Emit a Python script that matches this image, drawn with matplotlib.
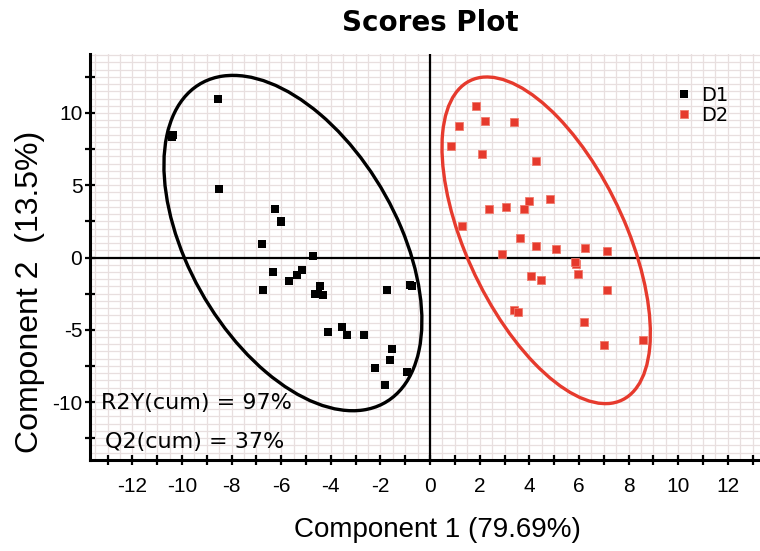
import numpy as np
import matplotlib
matplotlib.use("Agg")
import matplotlib.pyplot as plt
from matplotlib.patches import Ellipse
from matplotlib.ticker import MultipleLocator, FuncFormatter

# scores
d1_x = [-8.55, -10.42, -10.35, -8.5, -6.25, -6.02, -6.0, -6.79, -4.73, -6.32, -5.67, -5.37,
        -5.17, -6.72, -4.44, -4.65, -4.3, -4.5, -4.13, -3.56, -3.36, -2.66, -1.72, -0.74,
        -0.8, -1.52, -1.61, -2.22, -0.94, -1.81]
d1_y = [10.97, 8.36, 8.5, 4.74, 3.33, 2.46, 2.55, 0.91, 0.12, -1.0, -1.6, -1.21,
        -0.87, -2.25, -2.0, -2.55, -2.6, -2.5, -5.13, -4.79, -5.36, -5.36, -2.25, -1.97,
        -1.9, -6.35, -7.09, -7.67, -7.9, -8.82]
d2_x = [1.85, 1.18, 2.23, 3.39, 0.83, 2.08, 4.26, 2.39, 3.06, 3.79, 3.98, 4.84, 1.29,
        3.64, 4.26, 5.06, 6.26, 7.12, 2.89, 5.87, 5.85, 5.98, 4.06, 4.46, 7.12, 3.39,
        3.54, 6.21, 8.58, 7.02]
d2_y = [10.5, 9.1, 9.47, 9.36, 7.72, 7.14, 6.68, 3.34, 3.47, 3.34, 3.91, 4.03, 2.18,
        1.33, 0.8, 0.57, 0.68, 0.45, 0.24, -0.45, -0.3, -1.17, -1.28, -1.56, -2.25, -3.63,
        -3.75, -4.44, -5.71, -6.06]

# confidence ellipses: centre and covariance-like matrix
d1_centre = (-5.53, 1.0)
d1_cov = [[27.04, -28.0], [-28.0, 134.6]]
d2_centre = (4.68, 1.19)
d2_cov = [[17.64, -27.0], [-27.0, 127.7]]

black = "#000000"
red = "#e63a2d"


def add_ellipse(ax, centre, cov, color):
    vals, vecs = np.linalg.eigh(np.array(cov))
    ang = np.degrees(np.arctan2(vecs[1, 1], vecs[0, 1]))
    e = Ellipse(centre, 2 * np.sqrt(vals[1]), 2 * np.sqrt(vals[0]), angle=ang,
                fill=False, edgecolor=color, lw=2.4, zorder=3)
    ax.add_patch(e)


fig = plt.figure(figsize=(7.6, 5.51), dpi=100)
ax = fig.add_axes([90 / 760, 1 - 460 / 551, 670 / 760, 406 / 551])
ax.set_xlim(-13.71, 13.3)
ax.set_ylim(-14.01, 14.08)

ax.xaxis.set_major_locator(MultipleLocator(1))
ax.yaxis.set_major_locator(MultipleLocator(2.5))
ax.xaxis.set_minor_locator(MultipleLocator(0.5))
ax.yaxis.set_minor_locator(MultipleLocator(0.5))
ax.xaxis.set_major_formatter(FuncFormatter(
    lambda v, p: "%d" % round(v) if round(v) % 2 == 0 and abs(v) <= 12 else ""))
ax.yaxis.set_major_formatter(FuncFormatter(
    lambda v, p: "%d" % round(v) if abs(v % 5) < 1e-6 and abs(v) <= 10 else ""))
ax.grid(True, which="both", color="#e8dfdf", lw=0.9, zorder=0)
ax.set_axisbelow(True)

for s in ["top", "right"]:
    ax.spines[s].set_visible(False)
for s in ["left", "bottom"]:
    ax.spines[s].set_linewidth(2.2)
ax.tick_params(which="major", direction="inout", length=7, width=1.6, labelsize=15,
               labelfontfamily="Liberation Sans")
ax.tick_params(axis="x", pad=9)
ax.tick_params(axis="y", pad=2)
ax.tick_params(which="minor", length=0)

ax.axhline(0, color=black, lw=1.6, zorder=2)
ax.axvline(0, color=black, lw=1.6, zorder=2)

add_ellipse(ax, d1_centre, d1_cov, black)
add_ellipse(ax, d2_centre, d2_cov, red)

ax.plot(d1_x, d1_y, "s", color=black, ms=6.4, mew=0, zorder=4, label="D1")
ax.plot(d2_x, d2_y, "s", color=red, mec="#f07a6c", ms=6.4, mew=0.6, zorder=4, label="D2")

ax.legend(loc="upper left", bbox_to_anchor=(0.86, 0.945), frameon=False,
          handlelength=0.8, handletextpad=0.5, labelspacing=0.05, borderpad=0,
          markerscale=0.8, prop={"family": "DejaVu Sans", "size": 14})

ax.text(-13.27, -10.07, "R2Y(cum) = 97%", fontsize=16, va="center", ha="left", zorder=5)
ax.text(-13.1, -12.75, "Q2(cum) = 37%", fontsize=16, va="center", ha="left", zorder=5)

fig.text(430 / 760, 1 - 23 / 551, "Scores Plot", fontsize=20, fontweight="bold",
         ha="center", va="center")
fig.text(437.5 / 760, 1 - 530 / 551, "Component 1 (79.69%)", fontsize=20,
         family="Liberation Sans", ha="center", va="center")
fig.text(30 / 760, 1 - 292 / 551, "Component 2  (13.5%)", fontsize=23, rotation=90,
         family="Liberation Sans", ha="center", va="center")

fig.savefig("out.png", dpi=100)
